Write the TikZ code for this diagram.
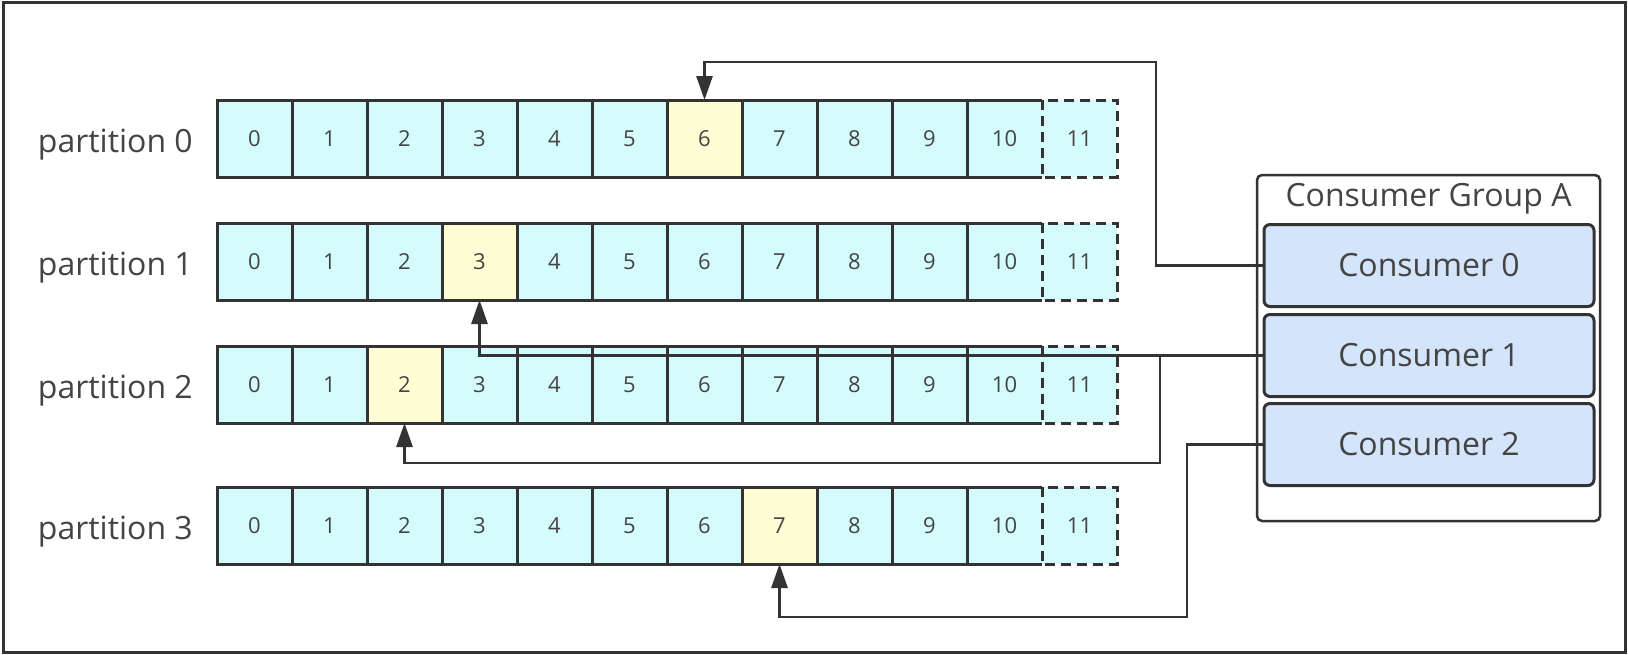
\documentclass[tikz,border=0pt]{standalone}
\usepackage{fontspec}
\setmainfont{Open Sans}
\usetikzlibrary{arrows.meta}
\definecolor{cellcyan}{HTML}{D5FCFC}
\definecolor{cellyel}{HTML}{FFFDD3}
\definecolor{consblue}{HTML}{D4E4FA}
\definecolor{ink}{HTML}{333333}
\definecolor{txt}{HTML}{444444}
\begin{document}
\begin{tikzpicture}[x=1pt,y=-1pt,
  cellbox/.style={minimum width=75pt,minimum height=77pt,inner sep=0pt,outer sep=0pt,fill=cellcyan,text=txt,font=\fontsize{22}{26}\selectfont},
  hot/.style={fill=cellyel},
  edgeline/.style={line width=3pt,draw=ink},
  dashline/.style={line width=3pt,draw=ink,dash pattern=on 10pt off 6pt},
  plabel/.style={anchor=base east,text=txt,font=\fontsize{32}{38}\selectfont,inner sep=0pt},
  consbox/.style={draw=ink,line width=3pt,fill=consblue,rounded corners=6pt,minimum width=330pt,minimum height=82pt,inner sep=0pt,outer sep=0pt,text=txt,font=\fontsize{32}{38}\selectfont},
  groupbox/.style={draw=ink,line width=2.5pt,rounded corners=5pt},
  conn/.style={draw=ink,line width=2.8pt},
  arr/.style={conn,-{Triangle[length=24pt,width=16pt]}}
]
\useasboundingbox (0,0) rectangle (1628,654);
\draw[line width=3pt,draw=ink] (3,2) rectangle (1625,652);

% partitions
\foreach \r/\top/\hl in {0/100/6,1/223/3,2/346/2,3/487/7}{
  \node[plabel] (lab\r) at (193,\top+52.5) {partition \r};
  \foreach \i in {0,...,11}{
    \ifnum\i=\hl
      \node[cellbox,hot] (p\r c\i) at (217+75*\i+37.5,\top+38.5) {\i};
    \else
      \node[cellbox] (p\r c\i) at (217+75*\i+37.5,\top+38.5) {\i};
    \fi
  }
  \draw[edgeline] (p\r c11.north west) -- (p\r c0.north west) -- (p\r c0.south west) -- (p\r c11.south west);
  \foreach \i in {1,...,10}{
    \draw[edgeline] (p\r c\i.north west) -- (p\r c\i.south west);
  }
  \draw[dashline] (p\r c11.north west) rectangle (p\r c11.south east);
}

% consumer group
\draw[groupbox] (1257,175) rectangle (1600,521);
\node[text=txt,font=\fontsize{32}{38}\selectfont,inner sep=0pt] (gtitle) at (1428.5,199) {Consumer Group A};
\node[consbox] (c0) at (1429,265.5) {Consumer 0};
\node[consbox] (c1) at (1429,355.5) {Consumer 1};
\node[consbox] (c2) at (1429,444.5) {Consumer 2};

% connectors
\coordinate (k0) at (1156,62);
\coordinate (k1) at (1160,463);
\coordinate (k2) at (1187,617);
\draw[arr] (c0.west) -| (k0) -| (p0c6.north);
\draw[arr] (c1.west) -| (p1c3.south);
\draw[arr] (c1.west) -| (k1) -| (p2c2.south);
\draw[arr] (c2.west) -| (k2) -| (p3c7.south);
\end{tikzpicture}
\end{document}
